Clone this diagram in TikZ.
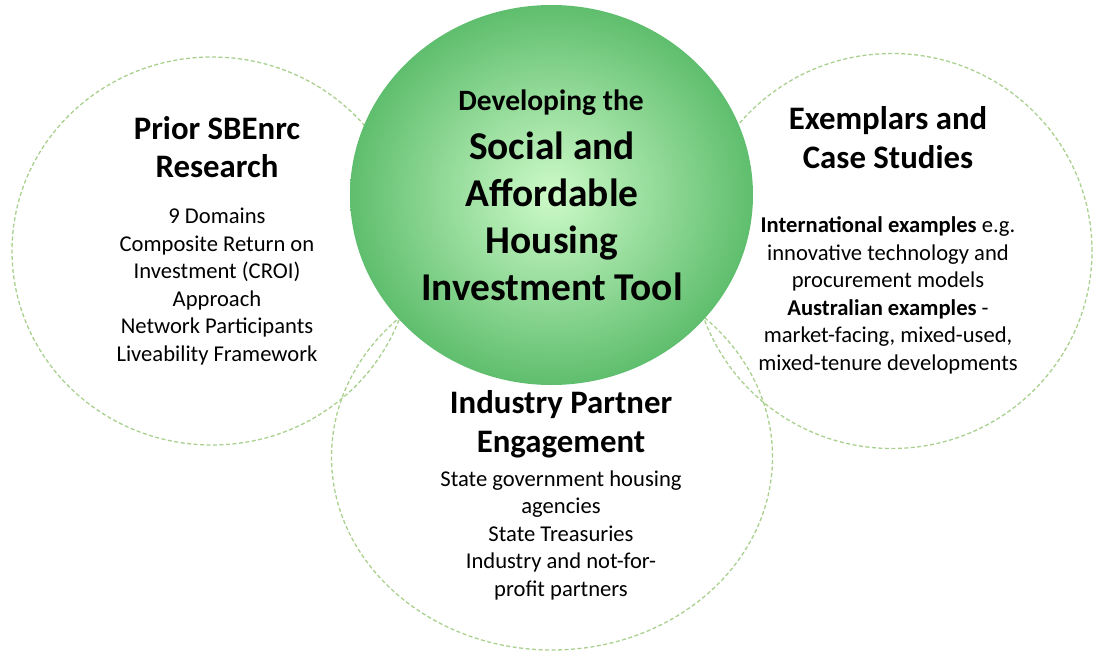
\documentclass[tikz,border=0pt]{standalone}
\usepackage{fontspec}
\setmainfont{Carlito}
\usetikzlibrary{shapes.geometric,positioning}

\definecolor{ringgreen}{RGB}{169,208,142}
\definecolor{hubinner}{RGB}{205,250,200}
\definecolor{hubouter}{RGB}{95,190,110}

\tikzset{
  ring/.style={ellipse, draw=ringgreen, line width=1.3pt, dash pattern=on 4pt off 2.5pt, inner sep=0pt},
  hub/.style={ellipse, shading=radial, inner color=hubinner, outer color=hubouter, inner sep=0pt},
  heading/.style={align=center, font=\bfseries\fontsize{32.8}{38.5}\selectfont, inner sep=0pt},
  body/.style={align=center, font=\fontsize{22.6}{27.5}\selectfont, inner sep=0pt},
}

\begin{document}
\begin{tikzpicture}[x=1pt,y=-1pt]
\useasboundingbox (0,0) rectangle (1098,651);

% outer rings
\node[ring, minimum width=400pt, minimum height=388pt] (prior) at (212,251) {};
\node[ring, minimum width=400pt, minimum height=395pt] (cases) at (892,251) {};
\node[ring, minimum width=441pt, minimum height=386pt] (partner) at (552,457) {};

% the tool in the middle
\node[hub, minimum width=403pt, minimum height=380pt] (hub) at (551.5,195) {};
\node[align=center, inner sep=0pt, font=\bfseries\fontsize{29.5}{34}\selectfont] (hubintro) at (551,103) {Developing the};
\node[align=center, inner sep=0pt, font=\bfseries\fontsize{39.4}{47}\selectfont] (hubtitle) at (552,216.5)
  {Social and\\Affordable\\Housing\\Investment Tool};

% left
\node[heading] (priortitle) at (217,147) {Prior SBEnrc\\Research};
\node[body] (priortext) at (217,286.5)
  {9 Domains\\Composite Return on\\Investment (CROI)\\Approach\\Network Participants\\Liveability Framework};

% right
\node[heading] (casestitle) at (888,137.5) {Exemplars and\\Case Studies};
\node[body] (casestext) at (888,295.5)
  {\textbf{International examples} e.g.\\innovative technology and\\procurement models\\\textbf{Australian examples} -\\market-facing, mixed-used,\\mixed-tenure developments};

% bottom
\node[heading] (partnertitle) at (561,424.5) {Industry Partner\\Engagement};
\node[body] (partnertext) at (561,535)
  {State government housing\\agencies\\State Treasuries\\Industry and not-for-\\profit partners};
\end{tikzpicture}
\end{document}
